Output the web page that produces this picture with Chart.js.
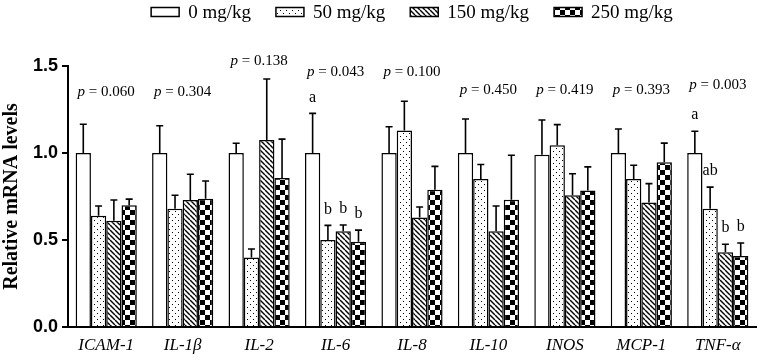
<!DOCTYPE html>
<html>
<head>
<meta charset="utf-8">
<script src="https://cdn.jsdelivr.net/npm/chart.js@4.4.1/dist/chart.umd.min.js"></script>
<style>
  body { margin: 0; background: #fff; }
  #wrap { width: 765px; height: 362px; position: relative; }
</style>
</head>
<body>
<div id="wrap"><canvas id="chart"></canvas></div>
<script>
const categories = ["ICAM-1", "IL-1β", "IL-2", "IL-6", "IL-8", "IL-10", "INOS", "MCP-1", "TNF-α"];
const doseLabels = ["0 mg/kg", "50 mg/kg", "150 mg/kg", "250 mg/kg"];

const dose0 = [1.00, 1.00, 1.00, 1.00, 1.00, 1.00, 0.99, 1.00, 1.00];
const dose50 = [0.64, 0.68, 0.40, 0.50, 1.13, 0.85, 1.045, 0.85, 0.68];
const dose150 = [0.61, 0.73, 1.075, 0.55, 0.63, 0.55, 0.757, 0.715, 0.43];
const dose250 = [0.70, 0.737, 0.856, 0.49, 0.789, 0.732, 0.785, 0.947, 0.408];

const sd0 = [0.165, 0.157, 0.056, 0.228, 0.151, 0.195, 0.20, 0.138, 0.125];
const sd50 = [0.055, 0.077, 0.048, 0.084, 0.167, 0.084, 0.118, 0.08, 0.124];
const sd150 = [0.12, 0.148, 0.35, 0.036, 0.06, 0.145, 0.124, 0.109, 0.046];
const sd250 = [0.035, 0.102, 0.224, 0.067, 0.134, 0.255, 0.135, 0.11, 0.075];

const letters0 = ["", "", "", "a", "", "", "", "", "a"];
const letters50 = ["", "", "", "b", "", "", "", "", "ab"];
const letters150 = ["", "", "", "b", "", "", "", "", "b"];
const letters250 = ["", "", "", "b", "", "", "", "", "b"];

const pValues = ["0.060", "0.304", "0.138", "0.043", "0.100", "0.450", "0.419", "0.393", "0.003"];
// height (in axis units) where each p label sits
const pLabelLevel = [1.35, 1.35, 1.53, 1.466, 1.466, 1.362, 1.362, 1.362, 1.39];

const yTicks = [0, 0.5, 1.0, 1.5];

const serif = "'Liberation Serif', 'Times New Roman', serif";
const sans = "'Liberation Sans', Arial, sans-serif";

function makePattern(kind) {
    const c = document.createElement("canvas");
    const g = c.getContext("2d");
    if (kind === "plain") {
        return "#ffffff";
    }
    if (kind === "dots") {
        c.width = 6; c.height = 6;
        g.fillStyle = "#fff"; g.fillRect(0, 0, 6, 6);
        g.fillStyle = "#000";
        g.fillRect(1, 1, 1, 1);
        g.fillRect(4, 4, 1, 1);
    } else if (kind === "hatch") {
        const s = 5;
        c.width = s; c.height = s;
        g.fillStyle = "#fff"; g.fillRect(0, 0, s, s);
        g.strokeStyle = "#000"; g.lineWidth = 1.4;
        [-s, 0, s].forEach((k) => {
            g.beginPath(); g.moveTo(k, 0); g.lineTo(k + s, s); g.stroke();
        });
    } else if (kind === "checker") {
        c.width = 10; c.height = 10;
        g.fillStyle = "#fff"; g.fillRect(0, 0, 10, 10);
        g.fillStyle = "#000";
        g.fillRect(0, 0, 5, 5);
        g.fillRect(5, 5, 5, 5);
    }
    return g.createPattern(c, "repeat");
}

const fills = [makePattern("plain"), makePattern("dots"), makePattern("hatch"), makePattern("checker")];
const values = [dose0, dose50, dose150, dose250];
const sds = [sd0, sd50, sd150, sd250];
const letters = [letters0, letters50, letters150, letters250];

const annotations = {
    id: "annotations",
    afterDatasetsDraw(chart) {
        const ctx = chart.ctx;
        const y = chart.scales.y;
        const x = chart.scales.x;
        ctx.save();
        ctx.strokeStyle = "#000";
        ctx.fillStyle = "#000";
        ctx.lineWidth = 1.6;
        values.forEach((vals, i) => {
            const meta = chart.getDatasetMeta(i);
            meta.data.forEach((bar, j) => {
                const top = y.getPixelForValue(vals[j] + sds[i][j]);
                ctx.beginPath();
                ctx.moveTo(bar.x, bar.y);
                ctx.lineTo(bar.x, top);
                ctx.moveTo(bar.x - 3.5, top);
                ctx.lineTo(bar.x + 3.5, top);
                ctx.stroke();
                const lt = letters[i][j];
                if (lt) {
                    ctx.font = "16px " + serif;
                    ctx.textAlign = "center";
                    ctx.textBaseline = "middle";
                    ctx.fillText(lt, bar.x, top - 16);
                }
            });
        });
        // p values
        pValues.forEach((p, j) => {
            const cx = x.getPixelForValue(j);
            const cy = y.getPixelForValue(pLabelLevel[j]);
            const italic = "italic 15px " + serif;
            const normal = "15px " + serif;
            const rest = " = " + p;
            ctx.font = italic;
            const w1 = ctx.measureText("p").width;
            ctx.font = normal;
            const w2 = ctx.measureText(rest).width;
            const start = cx - (w1 + w2) / 2;
            ctx.textAlign = "left";
            ctx.textBaseline = "middle";
            ctx.font = italic;
            ctx.fillText("p", start, cy);
            ctx.font = normal;
            ctx.fillText(rest, start + w1, cy);
        });
        ctx.restore();
    },
    afterDraw(chart) {
        // legend row
        const ctx = chart.ctx;
        const area = chart.chartArea;
        ctx.save();
        ctx.font = "19px " + serif;
        const boxW = 28, boxH = 9, gap = 9, itemGap = 25;
        const widths = doseLabels.map((t) => boxW + gap + ctx.measureText(t).width);
        const total = widths.reduce((a, b) => a + b, 0) + itemGap * (widths.length - 1);
        let cx = (area.left + area.right) / 2 - total / 2;
        const cy = 12;
        doseLabels.forEach((t, i) => {
            ctx.fillStyle = fills[i];
            ctx.fillRect(cx, cy - boxH / 2, boxW, boxH);
            ctx.strokeStyle = "#000";
            ctx.lineWidth = 1.5;
            ctx.strokeRect(cx, cy - boxH / 2, boxW, boxH);
            ctx.fillStyle = "#000";
            ctx.textAlign = "left";
            ctx.textBaseline = "middle";
            ctx.fillText(t, cx + boxW + gap, cy + 1);
            cx += widths[i] + itemGap;
        });
        ctx.restore();
    },
};

const ctx = document.getElementById("chart").getContext("2d");
new Chart(ctx, {
    type: "bar",
    data: {
        labels: categories,
        datasets: values.map((vals, i) => ({
            label: doseLabels[i],
            data: vals,
            backgroundColor: fills[i],
            borderColor: "#000",
            borderWidth: 1.5,
            barPercentage: 1,
            categoryPercentage: 0.8,
        })),
    },
    options: {
        responsive: true,
        maintainAspectRatio: false,
        animation: false,
        layout: {
            padding: { top: 66, right: 9, left: 0, bottom: 0 },
        },
        plugins: {
            legend: { display: false },
            tooltip: { enabled: false },
        },
        scales: {
            x: {
                grid: { display: false, drawTicks: false },
                border: { display: true, color: "#000", width: 2 },
                ticks: {
                    color: "#000",
                    padding: 8,
                    font: { family: serif, size: 17, style: "italic" },
                },
                afterFit(scale) {
                    scale.height = 35;
                },
            },
            y: {
                min: 0,
                max: 1.5,
                afterBuildTicks(scale) {
                    scale.ticks = yTicks.map((v) => ({ value: v }));
                },
                grid: {
                    drawOnChartArea: false,
                    drawTicks: true,
                    tickLength: 6,
                    color: "#000",
                    lineWidth: 2,
                },
                border: { display: true, color: "#000", width: 2 },
                ticks: {
                    color: "#000",
                    padding: 4,
                    font: { family: sans, size: 18, weight: "bold" },
                    callback: (v) => Number(v).toFixed(1),
                },
                title: {
                    display: true,
                    text: "Relative mRNA levels",
                    color: "#000",
                    padding: 0,
                    font: { family: serif, size: 20, weight: "bold" },
                },
                afterFit(scale) {
                    scale.width = 68;
                },
            },
        },
    },
    plugins: [annotations],
});
</script>
</body>
</html>
